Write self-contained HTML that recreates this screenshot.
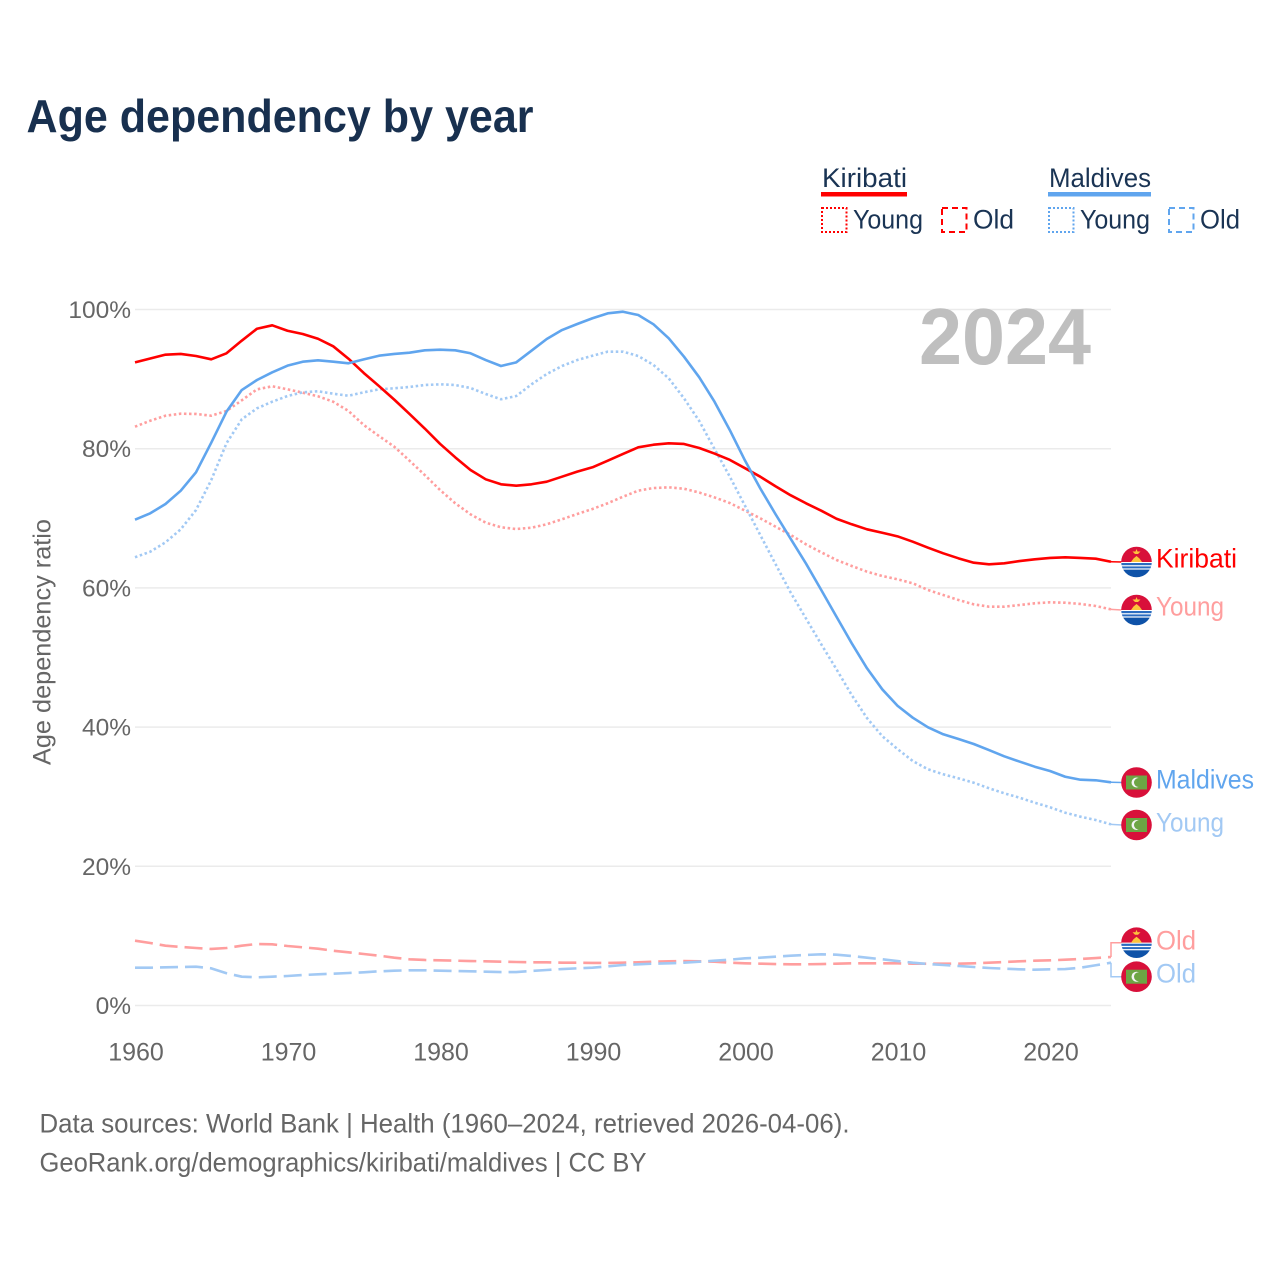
<!DOCTYPE html>
<html lang="en">
<head>
<meta charset="utf-8">
<title>Age dependency by year</title>
<style>
html,body{margin:0;padding:0;background:#fff;width:1280px;height:1280px;overflow:hidden}
svg{display:block}
text{font-family:"Liberation Sans",sans-serif}
.tick{font-size:25px;fill:#666}
.ytick{font-size:24.5px;fill:#666}
.legend{font-size:27px;fill:#1a3454}
.end{font-size:27px}
.foot{font-size:27px;fill:#666}
</style>
</head>
<body>
<svg id="chart" xmlns="http://www.w3.org/2000/svg" width="1280" height="1280" viewBox="0 0 1280 1280">
  <text x="26.5" y="132" font-size="46" font-weight="700" fill="#18304f" textLength="507" lengthAdjust="spacingAndGlyphs">Age dependency by year</text>

  <g id="legend">
    <text class="legend" x="822" y="187" textLength="85" lengthAdjust="spacingAndGlyphs">Kiribati</text>
    <rect x="821" y="192" width="86" height="4.5" fill="#ff0000"/>
    <rect x="822" y="208" width="24.5" height="24" fill="none" stroke="#ff0000" stroke-width="2" stroke-dasharray="2 2"/>
    <text class="legend" x="853" y="228.5" textLength="70" lengthAdjust="spacingAndGlyphs">Young</text>
    <rect x="942" y="208" width="24.5" height="24" fill="none" stroke="#ff0000" stroke-width="2" stroke-dasharray="6 4"/>
    <text class="legend" x="973" y="228.5" textLength="41" lengthAdjust="spacingAndGlyphs">Old</text>

    <text class="legend" x="1049" y="187" textLength="102" lengthAdjust="spacingAndGlyphs">Maldives</text>
    <rect x="1048" y="192" width="103" height="4.5" fill="#60a5ee"/>
    <rect x="1049" y="208" width="24.5" height="24" fill="none" stroke="#60a5ee" stroke-width="2" stroke-dasharray="2 2"/>
    <text class="legend" x="1080" y="228.5" textLength="70" lengthAdjust="spacingAndGlyphs">Young</text>
    <rect x="1169" y="208" width="24.5" height="24" fill="none" stroke="#60a5ee" stroke-width="2" stroke-dasharray="6 4"/>
    <text class="legend" x="1200" y="228.5" textLength="40" lengthAdjust="spacingAndGlyphs">Old</text>
  </g>

  <g id="grid"></g>
  <g id="yticks"></g>
  <g id="xticks"></g>
  <text class="tick" transform="translate(50.5,642) rotate(-90)" text-anchor="middle" textLength="246" lengthAdjust="spacingAndGlyphs">Age dependency ratio</text>
  <text x="919" y="364" font-size="80" font-weight="700" fill="#bfbfbf" textLength="172" lengthAdjust="spacingAndGlyphs">2024</text>

  <g id="series"></g>
  <g id="ends"></g>

  <text class="foot" x="39.5" y="1132.5" textLength="810" lengthAdjust="spacingAndGlyphs">Data sources: World Bank | Health (1960–2024, retrieved 2026-04-06).</text>
  <text class="foot" x="39.5" y="1171.5" textLength="607" lengthAdjust="spacingAndGlyphs">GeoRank.org/demographics/kiribati/maldives | CC BY</text>
</svg>

<script>
const firstYear = 1960;
const xTickYears = [1960, 1970, 1980, 1990, 2000, 2010, 2020];
const yTickValues = [0, 20, 40, 60, 80, 100];

const kiribatiTotal = [92.41,92.96,93.51,93.61,93.32,92.84,93.71,95.52,97.24,97.73,
  96.95,96.48,95.80,94.71,92.93,90.88,89.00,87.05,85.00,82.90,
  80.70,78.76,76.94,75.60,74.89,74.68,74.89,75.26,75.98,76.70,
  77.33,78.28,79.24,80.20,80.57,80.78,80.68,80.10,79.30,78.40,
  77.20,75.98,74.60,73.30,72.16,71.09,69.94,69.14,68.42,67.93,
  67.41,66.64,65.78,64.97,64.25,63.62,63.39,63.53,63.86,64.11,
  64.30,64.40,64.30,64.20,63.76];
const kiribatiYoung = [83.16,84.02,84.74,85.03,84.99,84.74,85.42,86.95,88.53,88.97,
  88.53,88.05,87.53,86.75,85.42,83.41,81.82,80.29,78.28,76.22,
  74.07,72.16,70.57,69.37,68.71,68.46,68.65,69.14,69.86,70.62,
  71.34,72.16,73.10,73.97,74.35,74.45,74.25,73.70,73.00,72.20,
  71.10,70.00,68.80,67.60,66.26,65.11,64.01,63.15,62.33,61.71,
  61.24,60.66,59.70,58.98,58.26,57.64,57.30,57.30,57.54,57.79,
  57.93,57.87,57.69,57.40,56.92];
const kiribatiOld = [9.31,8.98,8.59,8.41,8.26,8.12,8.26,8.59,8.84,8.79,
  8.55,8.36,8.16,7.87,7.64,7.40,7.16,6.87,6.64,6.54,
  6.49,6.44,6.39,6.35,6.29,6.25,6.21,6.21,6.15,6.15,
  6.11,6.11,6.15,6.21,6.29,6.35,6.39,6.35,6.29,6.15,
  6.06,6.01,5.96,5.92,5.92,5.96,6.01,6.06,6.06,6.06,
  6.06,6.01,6.01,6.01,6.01,6.06,6.15,6.25,6.35,6.44,
  6.49,6.58,6.68,6.82,6.97];
const maldivesTotal = [69.80,70.72,72.05,73.97,76.61,80.86,85.32,88.43,89.87,90.98,
  91.93,92.50,92.70,92.50,92.27,92.84,93.36,93.61,93.79,94.14,
  94.22,94.14,93.71,92.74,91.88,92.41,94.08,95.76,97.05,97.92,
  98.74,99.45,99.68,99.21,97.87,95.86,93.22,90.26,86.75,82.69,
  78.30,74.30,70.60,67.03,63.50,59.70,55.86,52.04,48.45,45.43,
  43.07,41.35,39.97,38.97,38.29,37.57,36.70,35.80,35.05,34.31,
  33.69,32.87,32.44,32.36,32.07];
const maldivesYoung = [64.40,65.20,66.55,68.42,71.19,75.50,80.78,84.22,85.80,86.75,
  87.57,88.10,88.25,87.90,87.61,88.10,88.53,88.68,88.87,89.15,
  89.25,89.15,88.72,87.86,87.10,87.57,89.25,90.73,91.88,92.74,
  93.36,93.94,93.94,93.32,92.03,90.11,87.24,83.98,79.96,76.00,
  71.80,67.60,63.43,59.31,55.60,51.90,48.30,44.60,41.30,38.70,
  36.85,35.13,33.94,33.22,32.64,32.01,31.21,30.49,29.86,29.14,
  28.48,27.70,27.13,26.65,26.03];
const maldivesOld = [5.43,5.43,5.49,5.53,5.57,5.34,4.63,4.14,4.05,4.14,
  4.24,4.38,4.48,4.57,4.67,4.77,4.91,5.00,5.06,5.06,
  5.00,4.96,4.91,4.86,4.81,4.81,4.96,5.10,5.24,5.34,
  5.43,5.63,5.82,5.92,6.01,6.06,6.15,6.29,6.44,6.58,
  6.78,6.87,7.01,7.16,7.26,7.36,7.30,7.11,6.87,6.64,
  6.39,6.15,5.96,5.82,5.68,5.53,5.39,5.29,5.20,5.14,
  5.20,5.24,5.43,5.78,6.15];

const NS = 'http://www.w3.org/2000/svg';
const xScale = function (year) { return 135 + (year - firstYear) * 15.25; };
const yScale = function (value) { return 1005.5 - value * 6.96; };
const RED = '#ff0000', BLUE = '#60a5ee', PINK = '#ff9e9e', SKY = '#a2c9f4';

function make(tag, parent, attrs) {
  const el = document.createElementNS(NS, tag);
  Object.keys(attrs).forEach(function (k) { el.setAttribute(k, attrs[k]); });
  parent.appendChild(el);
  return el;
}

const gridG = document.getElementById('grid');
const yTickG = document.getElementById('yticks');
const xTickG = document.getElementById('xticks');
yTickValues.forEach(function (v) {
  const line = make('line', gridG, { x1: 135, x2: 1111, y1: yScale(v), y2: yScale(v), stroke: '#ebebeb', 'stroke-width': 1.5 });
  
  
  const t = make('text', yTickG, { x: 131, y: yScale(v) + 8.5, 'text-anchor': 'end', class: 'ytick' });
  
  
  t.textContent = v + '%';
});
xTickYears.forEach(function (yr) {
  const t = make('text', xTickG, { x: xScale(yr) + 1, y: 1060.5, 'text-anchor': 'middle', class: 'tick' });
  
  
  t.textContent = String(yr);
});

function drawSeries(name, values, color, dash) {
  const d = values.map(function (v, i) {
    return (i ? 'L' : 'M') + xScale(firstYear + i).toFixed(2) + ' ' + yScale(v).toFixed(2);
  }).join('');
  const attrs = { d: d, fill: 'none', stroke: color, 'stroke-width': 2.6, 'stroke-linejoin': 'round' };
  if (dash) attrs['stroke-dasharray'] = dash;
  const p = make('path', document.getElementById('series'), attrs);
  
  
}
drawSeries('line-kiribati-old', kiribatiOld, PINK, '18 7');
drawSeries('line-maldives-old', maldivesOld, SKY, '18 7');
drawSeries('line-kiribati-young', kiribatiYoung, PINK, '2.5 2.6');
drawSeries('line-maldives-young', maldivesYoung, SKY, '2.5 2.6');
drawSeries('line-kiribati-total', kiribatiTotal, RED, '');
drawSeries('line-maldives-total', maldivesTotal, BLUE, '');

function kiribatiFlag(parent, cx, cy, clipId) {
  const g = make('g', parent, {});
  
  
  const defs = make('defs', g, {});
  const clip = make('clipPath', defs, { id: clipId });
  make('circle', clip, { cx: cx, cy: cy, r: 15.3 });
  const inner = make('g', g, { 'clip-path': 'url(#' + clipId + ')' });
  make('rect', inner, { x: cx - 16, y: cy - 16, width: 32, height: 16, fill: '#d8103a' });
  make('rect', inner, { x: cx - 16, y: cy, width: 32, height: 16, fill: '#ffffff' });
  make('path', inner, { d: 'M' + (cx - 5.5) + ' ' + cy + 'L' + (cx - 3) + ' ' + (cy - 3.5) + 'L' + cx + ' ' + (cy - 6) + 'L' + (cx + 3) + ' ' + (cy - 3.5) + 'L' + (cx + 5.5) + ' ' + cy + 'Z', fill: '#fcc43c' });
  make('path', inner, { d: 'M' + (cx - 4) + ' ' + (cy - 10.5) + 'L' + (cx - 1) + ' ' + (cy - 10.5) + 'L' + cx + ' ' + (cy - 13) + 'L' + (cx + 1) + ' ' + (cy - 10.5) + 'L' + (cx + 4) + ' ' + (cy - 10.5) + 'L' + (cx + 1.5) + ' ' + (cy - 8) + 'L' + (cx - 1.5) + ' ' + (cy - 8) + 'Z', fill: '#fcc43c' });
  make('rect', inner, { x: cx - 16, y: cy + 1, width: 32, height: 2.2, fill: '#2a6cc0' });
  make('rect', inner, { x: cx - 16, y: cy + 4.4, width: 32, height: 2, fill: '#2a6cc0' });
  make('rect', inner, { x: cx - 16, y: cy + 7.6, width: 32, height: 9, fill: '#0e52a8' });
}
function maldivesFlag(parent, cx, cy) {
  const g = make('g', parent, {});
  
  
  make('circle', g, { cx: cx, cy: cy, r: 15.3, fill: '#d8103a' });
  make('rect', g, { x: cx - 10.5, y: cy - 7, width: 21, height: 14, fill: '#6da544' });
  make('circle', g, { cx: cx, cy: cy, r: 5, fill: '#f4f4f4' });
  make('circle', g, { cx: cx + 2, cy: cy, r: 4.5, fill: '#6da544' });
}

const endsG = document.getElementById('ends');
function drawEnd(name, text, value, flagY, labelBaseline, labelColor, lineColor, flag, width) {
  const yEnd = yScale(value);
  const d = Math.abs(yEnd - flagY) > 4
    ? 'M1111 ' + yEnd + 'L1111 ' + flagY + 'L1122 ' + flagY
    : 'M1111 ' + yEnd + 'L1122 ' + flagY;
  const c = make('path', endsG, { d: d, fill: 'none', stroke: lineColor, 'stroke-width': 1.5 });
  
  
  if (flag === 'k') {
    kiribatiFlag(endsG, 1136.5, flagY, name + '-clip');
  } else {
    maldivesFlag(endsG, 1136.5, flagY);
  }
  const t = make('text', endsG, { x: 1156, y: labelBaseline, class: 'end', fill: labelColor, textLength: width, lengthAdjust: 'spacingAndGlyphs' });
  
  
  t.textContent = text;
}
drawEnd('end-kiribati-total', 'Kiribati', kiribatiTotal[kiribatiTotal.length - 1], 562, 567.5, RED, RED, 'k', 81);
drawEnd('end-kiribati-young', 'Young', kiribatiYoung[kiribatiYoung.length - 1], 610, 615.5, PINK, PINK, 'k', 68);
drawEnd('end-maldives-total', 'Maldives', maldivesTotal[maldivesTotal.length - 1], 782.5, 788.5, BLUE, BLUE, 'm', 98);
drawEnd('end-maldives-young', 'Young', maldivesYoung[maldivesYoung.length - 1], 825, 831.5, SKY, SKY, 'm', 68);
drawEnd('end-kiribati-old', 'Old', kiribatiOld[kiribatiOld.length - 1], 942.7, 949.5, PINK, PINK, 'k', 40);
drawEnd('end-maldives-old', 'Old', maldivesOld[maldivesOld.length - 1], 976.7, 982.5, SKY, SKY, 'm', 40);
</script>
</body>
</html>
